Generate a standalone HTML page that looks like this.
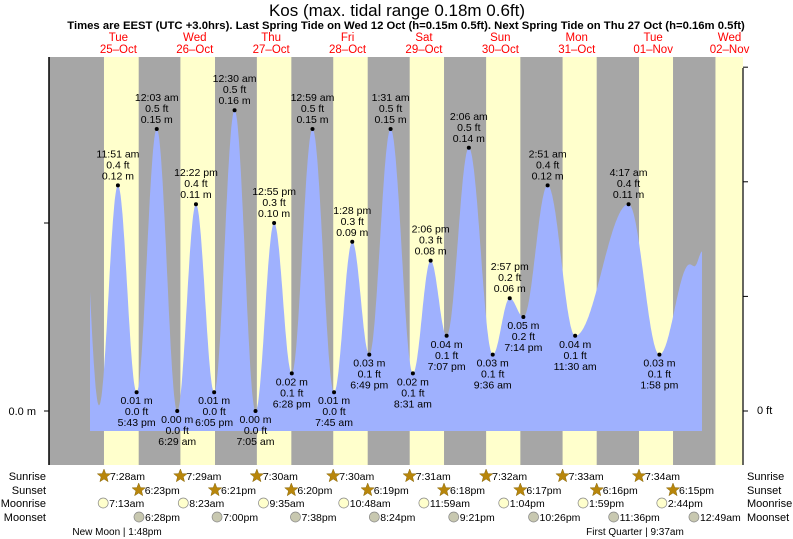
<!DOCTYPE html>
<html><head><meta charset="utf-8"><style>
body{margin:0;background:#fff;}
svg{display:block;font-family:"Liberation Sans",sans-serif;}
</style></head><body>
<svg id="chart" width="793" height="539" viewBox="0 0 793 539">
<text x="397" y="16" font-size="17" text-anchor="middle" fill="#000">Kos (max. tidal range 0.18m 0.6ft)</text>
<text x="406" y="29" font-size="11.3" font-weight="bold" text-anchor="middle" fill="#000">Times are EEST (UTC +3.0hrs). Last Spring Tide on Wed 12 Oct (h=0.15m 0.5ft). Next Spring Tide on Thu 27 Oct (h=0.16m 0.5ft)</text>
<g id="bands"></g><g id="tide"></g><g id="labels"></g><g id="axes"></g><g id="days"></g><g id="astro"></g>
</svg>
<script>
// ---- data ----
const dayNames=["Tue","Wed","Thu","Fri","Sat","Sun","Mon","Tue","Wed"];
const dayDates=["25–Oct","26–Oct","27–Oct","28–Oct","29–Oct","30–Oct","31–Oct","01–Nov","02–Nov"];
const sunriseH=[7.47,7.48,7.5,7.5,7.52,7.53,7.55,7.57,7.58];
const sunsetH=[18.38,18.35,18.33,18.32,18.3,18.28,18.27,18.25];
const sunriseTxt=["7:28am","7:29am","7:30am","7:30am","7:31am","7:32am","7:33am","7:34am"];
const sunsetTxt=["6:23pm","6:21pm","6:20pm","6:19pm","6:18pm","6:17pm","6:16pm","6:15pm"];
const moonriseH=[7.22,8.38,9.58,10.8,11.98,13.07,13.98,14.73];
const moonriseTxt=["7:13am","8:23am","9:35am","10:48am","11:59am","1:04pm","1:59pm","2:44pm"];
const moonsetH=[18.47,19,19.63,20.4,21.35,22.43,23.6,24.82];
const moonsetTxt=["6:28pm","7:00pm","7:38pm","8:24pm","9:21pm","10:26pm","11:36pm","12:49am"];
// tide extremes: hours since 25-Oct 00:00, height m, label
const tideH=[-0.2,5.9,11.85,17.72,24.05,30.48,36.37,42.08,48.5,55.08,60.92,66.47,72.98,79.75,85.47,90.82,97.52,104.52,110.1,115.12,122.1,129.6,134.95,139.23,146.85,155.5,172.28,181.97,191.5,193.0,195.5];
const tideM=[0.14,0.003,0.12,0.01,0.15,0.0,0.11,0.01,0.16,0.0,0.10,0.02,0.15,0.01,0.09,0.03,0.15,0.02,0.08,0.04,0.14,0.03,0.06,0.05,0.12,0.04,0.11,0.03,0.078,0.077,0.085];
const tideTxt=["","","11:51 am","5:43 pm","12:03 am","6:29 am","12:22 pm","6:05 pm","12:30 am","7:05 am","12:55 pm","6:28 pm","12:59 am","7:45 am","1:28 pm","6:49 pm","1:31 am","8:31 am","2:06 pm","7:07 pm","2:06 am","9:36 am","2:57 pm","7:14 pm","2:51 am","11:30 am","4:17 am","1:58 pm","","",""];
// ---- scales ----
const X0=80.2,PXH=3.183,Y0=411,PXM=1880;
const xs=h=>X0+h*PXH, ys=m=>Y0-m*PXM;
const NS="http://www.w3.org/2000/svg";
function mk(tag,attrs,parent){const e=document.createElementNS(NS,tag);for(const k in attrs)e.setAttribute(k,attrs[k]);parent.appendChild(e);return e;}
const bands=document.getElementById('bands');
let r=mk('rect',{x:49,y:57,width:694,height:408,fill:'#a6a6a6'},bands);


for(let i=0;i<9;i++){
  const x1=xs(24*i+sunriseH[i]);
  const x2=i<8?xs(24*i+sunsetH[i]):743;
  const b=mk('rect',{x:x1,y:57,width:Math.min(x2,743)-x1,height:408,fill:'#ffffcc'},bands);
  
  
}
function height(h){
  for(let i=0;i<tideH.length-1;i++){
    if(h>=tideH[i]&&h<=tideH[i+1]){
      const f=(h-tideH[i])/(tideH[i+1]-tideH[i]);
      return tideM[i+1]+(tideM[i]-tideM[i+1])*(1+Math.cos(Math.PI*f))/2;
    }
  }
  return tideM[tideM.length-1];
}
const hStart=(90-X0)/PXH,hEnd=(702-X0)/PXH;
let d=`M90,431`;
for(let h=hStart;h<=hEnd;h+=0.2)d+=` L${xs(h).toFixed(1)},${ys(height(h)).toFixed(1)}`;
d+=` L702,${ys(height(hEnd)).toFixed(1)} L702,431 Z`;
const tp=mk('path',{d:d,fill:'#9fb1fe'},document.getElementById('tide'));


const lab=document.getElementById('labels');
for(let i=0;i<tideH.length;i++){
  if(!tideTxt[i])continue;
  const x=xs(tideH[i]),y=ys(tideM[i]);
  const high=tideM[i]>tideM[i-1];
  const dot=mk('circle',{cx:x,cy:y,r:2,fill:'#000'},lab);
  
  
  const ft=(tideM[i]*3.28).toFixed(1)+" ft",m=tideM[i].toFixed(2)+" m";
  const lines=high?[tideTxt[i],ft,m]:[m,ft,tideTxt[i]];
  const base=high?y-28:y+12;
  lines.forEach((s,j)=>{
    const t=mk('text',{x:x,y:base+j*11,'font-size':10.5,'text-anchor':'middle',fill:'#000'},lab);
    t.textContent=s;
    
    
  });
}
const ax=document.getElementById('axes');
let l=mk('line',{x1:49,y1:57,x2:49,y2:465,stroke:'#000','stroke-width':1.5},ax);


l=mk('line',{x1:743,y1:68,x2:743,y2:465,stroke:'#333','stroke-width':1.5},ax);


[0,0.1].forEach(v=>{mk('line',{x1:44,y1:ys(v),x2:49,y2:ys(v),stroke:'#000'},ax);});
[0,0.2,0.4,0.6].forEach(v=>{mk('line',{x1:743,y1:ys(v*0.3048),x2:748,y2:ys(v*0.3048),stroke:'#000'},ax);});
let t=mk('text',{x:36,y:415,'font-size':11,'text-anchor':'end'},ax);t.textContent="0.0 m";


t=mk('text',{x:757,y:414,'font-size':11},ax);t.textContent="0 ft";


const dg=document.getElementById('days');
for(let i=0;i<9;i++){
  const x=xs(24*i+12);
  const a=mk('text',{x:x,y:41,'font-size':11.5,'text-anchor':'middle',fill:'#ff0000'},dg);a.textContent=dayNames[i];
  
  
  const b=mk('text',{x:x,y:53,'font-size':11.5,'text-anchor':'middle',fill:'#ff0000'},dg);b.textContent=dayDates[i];
  
  
}
const as=document.getElementById('astro');
const rowY=[476,490,503,517],rowN=["Sunrise","Sunset","Moonrise","Moonset"];
rowN.forEach((n,j)=>{
  let a=mk('text',{x:46,y:rowY[j]+4,'font-size':11,'text-anchor':'end'},as);a.textContent=n;
  
  
  a=mk('text',{x:747,y:rowY[j]+4,'font-size':11},as);a.textContent=n;
  
  
});
function star(cx,cy){
  let p="";for(let k=0;k<10;k++){const rr=k%2?3:7;const an=-Math.PI/2+k*Math.PI/5;p+=(cx+rr*Math.cos(an)).toFixed(1)+","+(cy+rr*Math.sin(an)).toFixed(1)+" ";}
  return mk('polygon',{points:p,fill:'#b8860b',stroke:'#8a6a10','stroke-width':0.5},as);
}
function item(h,txt,row,kind,name){
  const x=xs(h),y=rowY[row];
  let ic;
  if(kind==='star')ic=star(x,y);
  else ic=mk('circle',{cx:x,cy:y,r:5,fill:kind==='rise'?'#ffffcc':'#c8c8b0',stroke:'#888','stroke-width':0.7},as);
  
  
  const tx=mk('text',{x:x+6,y:y+4,'font-size':10.5},as);tx.textContent=txt;
  
  
}
for(let i=0;i<8;i++){
  item(24*i+sunriseH[i],sunriseTxt[i],0,'star','sunrise');
  item(24*i+sunsetH[i],sunsetTxt[i],1,'star','sunset');
  item(24*i+moonriseH[i],moonriseTxt[i],2,'rise','moonrise');
  item(24*i+moonsetH[i],moonsetTxt[i],3,'set','moonset');
}
t=mk('text',{x:117,y:535,'font-size':10,'text-anchor':'middle'},as);t.textContent="New Moon | 1:48pm";


t=mk('text',{x:635,y:535,'font-size':10,'text-anchor':'middle'},as);t.textContent="First Quarter | 9:37am";


</script>
</body></html>
